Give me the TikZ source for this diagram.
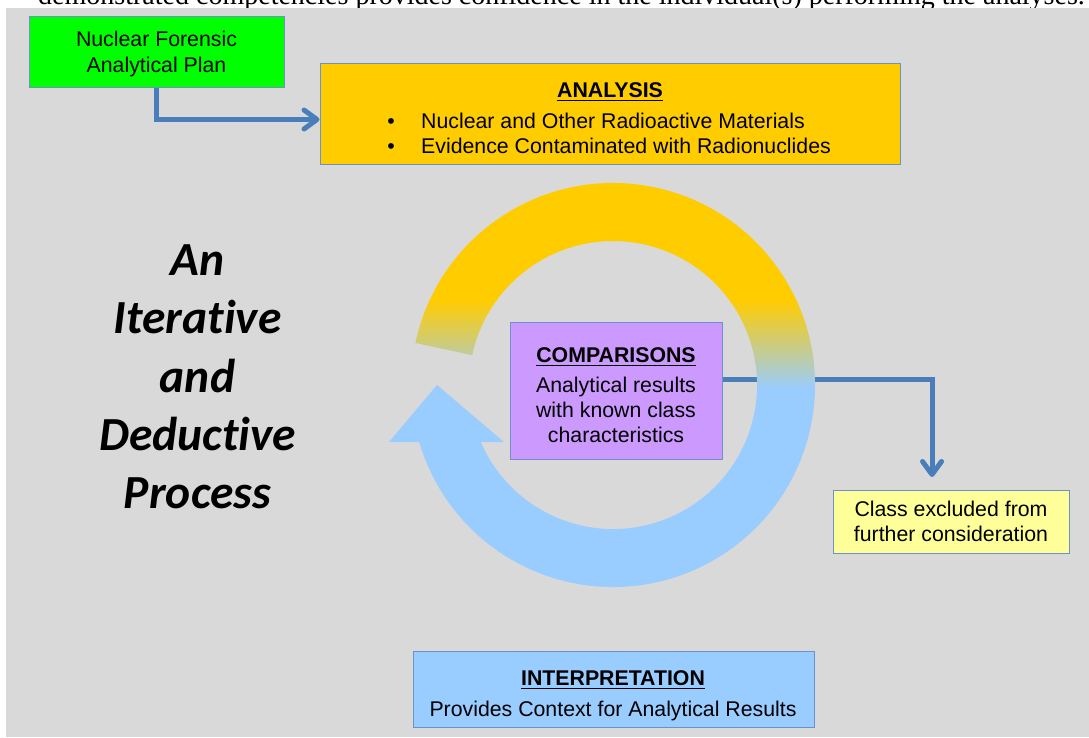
\documentclass[tikz,border=0pt]{standalone}
\usepackage{fontspec}
\setmainfont{Liberation Sans}
\newfontfamily\serifr{Liberation Serif}
\newfontfamily\calib[Ligatures=NoCommon]{Carlito}
\usetikzlibrary{arrows.meta}
\definecolor{bg}{HTML}{D9D9D9}
\definecolor{plangreen}{HTML}{00FF00}
\definecolor{anyellow}{HTML}{FFCC00}
\definecolor{complilac}{HTML}{CC99FF}
\definecolor{exclyellow}{HTML}{FFFF99}
\definecolor{interpblue}{HTML}{99CCFF}
\definecolor{boxline}{HTML}{6E90CB}
\definecolor{linkblue}{HTML}{4A7EBB}
\newcommand{\myul}[1]{\leavevmode\vtop{\hbox{#1}\kern2.4pt\hrule height 1.7pt}}
\tikzset{
  box/.style={draw=boxline, line width=1pt, inner sep=0pt},
  txt/.style={font=\fontsize{21.3}{24}\selectfont, inner sep=0pt, anchor=base},
  bigtxt/.style={font=\calib\bfseries\itshape\fontsize{47.5}{50}\selectfont, inner sep=0pt, anchor=base},
  conn/.style={draw=linkblue, line width=5pt, -{Straight Barb[length=13pt,width=19pt,round]}},
}
\begin{document}
\begin{tikzpicture}[x=1pt,y=1pt]
\useasboundingbox (0,0) rectangle (1089,-737);
\node[anchor=base east, inner sep=0pt, font=\serifr\fontsize{28}{30}\selectfont] (topline) at (1085,-4.5) {demonstrated competencies provides confidence in the individual(s) performing the analyses.};
\fill[bg] (6,-8) rectangle (1089,-737);

% boxes
\node[box, fill=plangreen, minimum width=255pt, minimum height=71pt] (plan) at (156.5,-51.5) {};
\node[box, fill=anyellow, minimum width=580pt, minimum height=101pt] (analysis) at (610,-113.5) {};
\node[box, fill=complilac, minimum width=212.5pt, minimum height=137pt] (comp) at (616.25,-390.5) {};
\node[box, fill=exclyellow, minimum width=236pt, minimum height=63pt] (excl) at (951,-521.5) {};
\node[box, fill=interpblue, minimum width=401pt, minimum height=76pt] (interp) at (613.5,-689) {};

% texts
\node[txt] (plan1) at (156.5,-46) {Nuclear Forensic};
\node[txt] (plan2) at (156.5,-72) {Analytical Plan};
\node[txt] (antitle) at (610,-97) {\myul{\bfseries ANALYSIS}};
\node[txt] (bul1) at (391,-128) {•};
\node[txt] (bul2) at (391,-153) {•};
\node[txt, anchor=base west] (an1) at (421,-128) {Nuclear and Other Radioactive Materials};
\node[txt, anchor=base west] (an2) at (421,-153) {Evidence Contaminated with Radionuclides};
\node[txt] (comptitle) at (616,-362) {\myul{\bfseries COMPARISONS}};
\node[txt] (comp1) at (616,-392) {Analytical results};
\node[txt] (comp2) at (616,-417.7) {with known class};
\node[txt] (comp3) at (616,-442.7) {characteristics};
\node[txt] (excl1) at (951,-516) {Class excluded from};
\node[txt] (excl2) at (951,-541.5) {further consideration};
\node[txt] (intitle) at (613,-685) {\myul{\bfseries INTERPRETATION}};
\node[txt] (in1) at (613,-716) {Provides Context for Analytical Results};

\node[bigtxt] (big1) at (197.5,-275) {An};
\node[bigtxt] (big2) at (197.5,-333) {Iterative};
\node[bigtxt] (big3) at (197.5,-392) {and};
\node[bigtxt] (big4) at (197.5,-450.7) {Deductive};
\node[bigtxt] (big5) at (197.5,-508) {Process};

% connectors
\draw[conn] (plan.south) |- ([yshift=-6pt]analysis.west);
\coordinate (exclin) at (932,-477);
\draw[conn] ([yshift=11.5pt]comp.east) -| (exclin);

% cycle arrow
\begin{scope}
\clip ([shift={(613,-385)}]168:202) arc[start angle=168, end angle=-163.6, radius=202]
  -- (389,-442) -- (437,-385) -- (504,-442) -- (480.8,-442)
  arc[start angle=-156.7, end angle=168, radius=144] -- cycle;
\fill[anyellow] (370,-170) rectangle (840,-301);
\shade[top color=anyellow, bottom color=interpblue] (370,-300) rectangle (840,-389);
\fill[interpblue] (370,-388) rectangle (840,-610);
\end{scope}
\end{tikzpicture}
\end{document}
